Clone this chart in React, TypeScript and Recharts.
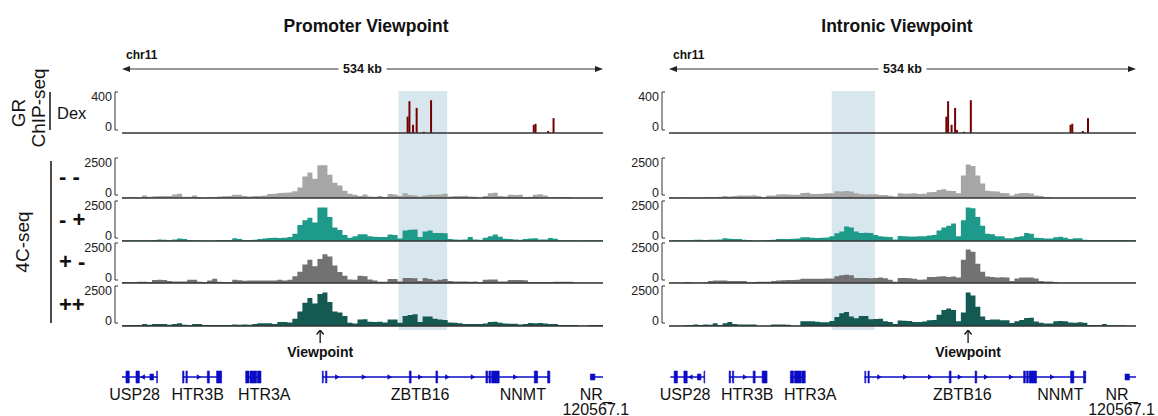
import React from 'react'
import {
  Area,
  AreaChart,
  Bar,
  BarChart,
  ComposedChart,
  ReferenceArea,
  ReferenceLine,
  Scatter,
  XAxis,
  YAxis,
} from 'recharts'

const FONT = '"Liberation Sans", Arial, Helvetica, sans-serif'
const BLUE = '#0b0bc6'
const REGION_KB = 534
const BINS = 96
const CHIP_BIN_KB = 2

// 4C-seq signal, 96 bins over the 534 kb window (conditions: - -, - +, + -, ++)
const promoterMM = [
  60, 40, 60, 50, 150, 80, 110, 120, 120, 130, 220, 270, 80, 80, 150, 60, 20, 40, 60, 90, 110, 120, 200, 200,
  120, 100, 130, 130, 150, 250, 260, 320, 330, 340, 420, 650, 1350, 1600, 1200, 2050, 2050, 1450, 950, 780, 450, 260, 200, 120,
  220, 100, 80, 120, 60, 250, 220, 120, 300, 180, 150, 100, 150, 200, 200, 220, 260, 100, 120, 120, 140, 100, 80, 20,
  120, 300, 330, 120, 100, 200, 180, 200, 60, 80, 200, 240, 150, 60, 40, 60, 60, 60, 10, 10, 10, 10, 10, 10,
]
const promoterMP = [
  40, 40, 40, 40, 50, 50, 60, 100, 80, 50, 100, 150, 130, 60, 40, 40, 30, 30, 30, 60, 60, 60, 170, 130,
  60, 60, 80, 120, 150, 180, 200, 190, 200, 250, 460, 1000, 1300, 1450, 1150, 2100, 2100, 1500, 850, 680, 380, 200, 300, 420,
  420, 300, 260, 250, 250, 400, 380, 150, 650, 700, 720, 250, 600, 650, 500, 500, 480, 130, 90, 80, 100, 250, 100, 80,
  200, 300, 400, 260, 140, 130, 90, 80, 120, 150, 170, 100, 100, 180, 140, 40, 40, 40, 40, 30, 40, 40, 40, 40,
]
const promoterPM = [
  60, 50, 60, 80, 80, 60, 180, 200, 190, 120, 100, 100, 100, 210, 210, 80, 60, 150, 270, 80, 70, 60, 200, 170,
  140, 150, 150, 150, 150, 150, 150, 210, 160, 200, 420, 700, 1150, 1450, 1050, 1500, 1800, 1650, 1100, 680, 460, 220, 200, 460,
  420, 220, 150, 80, 80, 250, 250, 100, 320, 320, 300, 120, 320, 250, 150, 200, 250, 120, 100, 100, 100, 80, 100, 40,
  200, 220, 220, 100, 100, 180, 180, 180, 170, 60, 60, 60, 60, 60, 80, 80, 80, 80, 30, 20, 20, 20, 20, 20,
]
const promoterPP = [
  60, 60, 60, 60, 120, 80, 120, 120, 120, 80, 120, 170, 80, 60, 120, 120, 60, 60, 60, 60, 60, 60, 100, 80,
  100, 80, 120, 170, 170, 170, 120, 250, 250, 220, 460, 900, 1450, 1750, 1400, 2000, 2100, 1500, 900, 840, 620, 200, 150, 400,
  420, 260, 250, 260, 220, 400, 400, 200, 620, 680, 740, 250, 600, 600, 450, 400, 380, 220, 200, 170, 130, 120, 120, 120,
  150, 250, 270, 200, 150, 140, 140, 100, 130, 180, 170, 180, 150, 130, 120, 60, 60, 60, 60, 10, 10, 60, 60, 60,
]
const intronicMM = [
  40, 30, 50, 40, 50, 30, 40, 50, 60, 60, 80, 120, 100, 130, 150, 150, 150, 170, 120, 60, 150, 160, 220, 230,
  220, 210, 200, 320, 330, 250, 250, 270, 290, 300, 420, 400, 430, 400, 300, 230, 220, 230, 230, 180, 190, 140, 100, 300,
  270, 280, 300, 250, 260, 360, 380, 500, 540, 460, 440, 300, 1400, 2100, 2000, 1400, 900, 450, 420, 400, 320, 300, 150, 260,
  320, 320, 280, 150, 120, 70, 60, 20, 20, 20, 20, 20, 20, 20, 20, 20, 20, 20, 20, 20, 20, 20, 20, 30,
]
const intronicMP = [
  30, 40, 40, 50, 50, 80, 80, 70, 80, 80, 100, 170, 140, 130, 130, 80, 60, 30, 30, 40, 60, 80, 120, 130,
  130, 140, 150, 240, 230, 200, 190, 200, 220, 300, 480, 600, 900, 850, 600, 500, 520, 500, 380, 300, 260, 250, 100, 320,
  300, 280, 280, 290, 300, 340, 380, 650, 850, 950, 1100, 300, 1300, 2100, 2050, 1500, 950, 450, 420, 300, 290, 170, 170, 250,
  300, 500, 450, 210, 180, 150, 150, 240, 260, 200, 120, 170, 170, 80, 60, 60, 60, 60, 60, 60, 60, 60, 60, 50,
]
const intronicPM = [
  10, 10, 10, 60, 50, 20, 20, 40, 120, 150, 150, 150, 130, 130, 130, 120, 40, 60, 80, 80, 80, 120, 150, 170,
  190, 190, 200, 270, 270, 270, 260, 270, 280, 280, 420, 480, 520, 480, 320, 320, 320, 300, 320, 340, 300, 200, 80, 320,
  320, 300, 260, 200, 220, 380, 380, 400, 420, 380, 400, 350, 1450, 2100, 1950, 1200, 700, 400, 380, 340, 360, 350, 120, 280,
  340, 340, 340, 280, 120, 100, 100, 60, 20, 10, 10, 10, 10, 10, 10, 10, 10, 10, 10, 10, 10, 10, 10, 10,
]
const intronicPP = [
  10, 10, 10, 40, 60, 100, 60, 100, 80, 170, 60, 170, 250, 120, 100, 100, 100, 100, 20, 10, 10, 100, 100, 100,
  80, 10, 20, 300, 300, 290, 260, 230, 240, 320, 560, 800, 880, 600, 480, 630, 620, 420, 440, 460, 300, 250, 120, 350,
  330, 320, 250, 250, 280, 360, 380, 700, 1000, 1090, 1000, 300, 850, 2100, 1900, 1200, 600, 380, 400, 400, 360, 360, 190, 300,
  380, 500, 520, 280, 200, 150, 150, 300, 320, 300, 220, 200, 240, 200, 60, 60, 50, 120, 40, 40, 40, 40, 20, 20,
]

const conditions = ['- -', '- +', '+ -', '++']
const trackColors = ['#a6a6a6', '#1e9a8b', '#727272', '#145a52']

// GR ChIP-seq (Dex) peaks: position in kb, signal
const chipKb = [315, 317, 321, 325, 326, 334, 342, 456, 458, 471, 477]
const chipDex = [160, 310, 80, 245, 30, 12, 320, 80, 90, 20, 145]

// RefSeq genes, kb
const geneNames = ['USP28', 'HTR3B', 'HTR3A', 'ZBTB16', 'NNMT', 'NR_\n120567.1']
const geneStart = [0, 67.3, 137.3, 222, 418.8, 520]
const geneEnd = [39.3, 110.6, 154.3, 418.8, 475, 534]
const geneLabelKb = [
  [14, 84, 158, 331, 445, 526],
  [17, 88, 160, 334, 446, 516],
]
const exonSpans = [
  [4.4, 8.1], [15.5, 19.3], [38.5, 39.3], [67.3, 68.8], [71, 72.5], [94.7, 97], [105, 110.6],
  [137.3, 141], [142, 149.5], [150.2, 154.3], [222.4, 223.5], [226, 227.5], [319, 321], [348.5, 350.4],
  [404, 406], [407.4, 409.3], [410.3, 418.8], [457.7, 461.4], [472.5, 475],
]
const utrSpans = [[31, 35], [520, 525]]
const chevronKb = [22.6, 85.8, 239.4, 269, 297.5, 331.5, 361.5, 390, 437]
const chevronDir = [-1, 1, 1, 1, 1, 1, 1, 1, 1]

// highlighted region and 4C viewpoint per panel, kb
const shadeKb = [[307, 361], [184.5, 234]]
const viewpointKb = [220, 340.5]
const windowShift = [0, 1.5]

const panels = [
  { title: 'Promoter Viewpoint', titleX: 366, x0: 122, w: 481, tracks: [promoterMM, promoterMP, promoterPM, promoterPP] },
  { title: 'Intronic Viewpoint', titleX: 897, x0: 669, w: 467, tracks: [intronicMM, intronicMP, intronicPM, intronicPP] },
]

const AXIS_W = 50
const CHIP_TOP = 92
const CHIP_H = 41
const TRACK_H = 40
const trackBase = [198, 241, 283, 326]
const GENE_TOP = 330
const GENE_H = 86
const GENE_AXIS_H = 30
const GENE_PAD_R = 50
const LINE_Y = 9

const bracketTick = (plotH: number, max: number, botDy: number) => (props: any) => {
  const { x, y, payload } = props
  const isTop = payload.value === max
  const bx = x - 7
  const sy = isTop ? y : y - 3
  return (
    <g>
      {isTop && <line x1={bx} y1={y} x2={bx} y2={y + plotH - 3} stroke="#333" strokeWidth={1} />}
      <line x1={bx} y1={sy} x2={bx + 3} y2={sy} stroke="#333" strokeWidth={1} />
      <text
        x={x - 10}
        y={isTop ? y + 5 : y + botDy}
        textAnchor="end"
        dominantBaseline="central"
        fontSize={12.5}
        fontFamily={FONT}
        fill="#222"
      >
        {payload.value}
      </text>
    </g>
  )
}

const geneLabelTick = (pi: number) => (props: any) => {
  const { x, y, payload } = props
  const i = geneLabelKb[pi].indexOf(payload.value)
  if (i < 0) return <g />
  const lines = geneNames[i].split('\n')
  return (
    <text x={x} y={y + 13.5} textAnchor="middle" fontSize={16} fontFamily={FONT} fill="#111">
      {lines.map((l, j) => (
        <tspan key={j} x={x} dy={j === 0 ? 0 : 15}>
          {l}
        </tspan>
      ))}
    </text>
  )
}

const Chevron = (p: any) => {
  const { cx, cy, payload } = p
  const d = payload.dir
  return (
    <path
      d={`M${cx - 2.5 * d},${cy - 2.8} L${cx + 2 * d},${cy} L${cx - 2.5 * d},${cy + 2.8} Z`}
      fill={BLUE}
    />
  )
}

const ViewpointMark = (p: any) => {
  const { cx, cy } = p
  return (
    <g>
      <line x1={cx} y1={cy} x2={cx} y2={cy - 12} stroke="#111" strokeWidth={1.3} />
      <path d={`M${cx - 3.5},${cy - 8.5} L${cx},${cy - 13} L${cx + 3.5},${cy - 8.5}`} fill="none" stroke="#111" strokeWidth={1.3} />
      <text x={cx} y={cy + 9} textAnchor="middle" dominantBaseline="central" fontWeight="bold" fontSize={14} fontFamily={FONT} fill="#111">
        Viewpoint
      </text>
    </g>
  )
}

function Header() {
  return (
    <svg width={1158} height={416} style={{ position: 'absolute', left: 0, top: 0 }}>
      {panels.map((p) => {
        const mid = p.x0 + p.w / 2
        return (
          <g key={p.title} fontFamily={FONT}>
            <text x={p.titleX} y={26} textAnchor="middle" dominantBaseline="central" fontSize={17.5} fontWeight="bold" fill="#111">
              {p.title}
            </text>
            <text x={p.x0 + 4} y={55} dominantBaseline="central" fontSize={12} fontWeight="bold" fill="#111">
              chr11
            </text>
            <line x1={p.x0 + 4} y1={69} x2={mid - 24} y2={69} stroke="#333" strokeWidth={1.2} />
            <line x1={mid + 24} y1={69} x2={p.x0 + p.w - 4} y2={69} stroke="#333" strokeWidth={1.2} />
            <polygon points={`${p.x0},69 ${p.x0 + 8},66 ${p.x0 + 8},72`} fill="#222" />
            <polygon points={`${p.x0 + p.w},69 ${p.x0 + p.w - 8},66 ${p.x0 + p.w - 8},72`} fill="#222" />
            <text x={mid} y={69} textAnchor="middle" dominantBaseline="central" fontSize={12.5} fontWeight="bold" fill="#111">
              534 kb
            </text>
          </g>
        )
      })}
      <g fontFamily={FONT} fill="#111">
        <text transform="translate(18,113) rotate(-90)" textAnchor="middle" dominantBaseline="central" fontSize={19}>GR</text>
        <text transform="translate(38,108) rotate(-90)" textAnchor="middle" dominantBaseline="central" fontSize={19}>ChIP-seq</text>
        <line x1={50} y1={92} x2={50} y2={130} stroke="#111" strokeWidth={1.5} />
        <text x={57} y={113} dominantBaseline="central" fontSize={16.5}>Dex</text>
        <text transform="translate(22,242) rotate(-90)" textAnchor="middle" dominantBaseline="central" fontSize={19}>4C-seq</text>
        <line x1={51} y1={161} x2={51} y2={323} stroke="#111" strokeWidth={1.5} />
        {conditions.map((c, i) => (
          <text key={c} x={59} y={trackBase[i] - 22} dominantBaseline="central" fontSize={22} fontWeight="bold">
            {c}
          </text>
        ))}
      </g>
    </svg>
  )
}

function Shading({ pi }: { pi: number }) {
  const p = panels[pi]
  const dom = [-windowShift[pi], REGION_KB - windowShift[pi]]
  const data = [{ name: 'highlight', span: shadeKb[pi] }]
  return (
    <div style={{ position: 'absolute', left: p.x0, top: 91 }}>
      <BarChart
        layout="vertical"
        width={p.w}
        height={239}
        data={data}
        margin={{ top: 0, right: 0, bottom: 0, left: 0 }}
        barCategoryGap={0}
      >
        <XAxis type="number" domain={dom} hide allowDataOverflow />
        <YAxis type="category" dataKey="name" hide />
        <Bar dataKey="span" fill="#d8e6ee" isAnimationActive={false} />
      </BarChart>
    </div>
  )
}

function ChipTrack({ pi }: { pi: number }) {
  const p = panels[pi]
  const nBins = Math.ceil(REGION_KB / CHIP_BIN_KB)
  const bins = Array.from({ length: nBins }, (_, i) => ({ bin: i, dex: 0 }))
  chipKb.forEach((kb, i) => {
    const b = Math.min(nBins - 1, Math.round((kb + windowShift[pi]) / CHIP_BIN_KB))
    bins[b].dex = Math.max(bins[b].dex, chipDex[i])
  })
  return (
    <div style={{ position: 'absolute', left: p.x0 - AXIS_W, top: CHIP_TOP - 4 }}>
      <BarChart
        width={p.w + AXIS_W}
        height={CHIP_H + 8}
        data={bins}
        margin={{ top: 4, right: 0, bottom: 4, left: 0 }}
        barCategoryGap={0}
        barGap={0}
      >
        <XAxis dataKey="bin" hide />
        <YAxis
          width={AXIS_W}
          type="number"
          domain={[0, 400]}
          ticks={[0, 400]}
          interval={0}
          tick={bracketTick(CHIP_H, 400, -6)}
          tickLine={false}
          axisLine={false}
          tickSize={0}
          tickMargin={0}
        />
        <Bar dataKey="dex" fill="#740000" isAnimationActive={false} />
        <ReferenceLine y={0} stroke="#333" strokeWidth={1.5} />
      </BarChart>
    </div>
  )
}

function FourCTrack({ pi, ti }: { pi: number; ti: number }) {
  const p = panels[pi]
  const values = p.tracks[ti]
  const data = [...values, values[values.length - 1]].map((v, i) => ({ bin: i, signal: v }))
  return (
    <div style={{ position: 'absolute', left: p.x0 - AXIS_W, top: trackBase[ti] - TRACK_H - 4 }}>
      <AreaChart width={p.w + AXIS_W} height={TRACK_H + 8} data={data} margin={{ top: 4, right: 0, bottom: 4, left: 0 }}>
        <XAxis type="number" dataKey="bin" domain={[0, BINS]} hide />
        <YAxis
          width={AXIS_W}
          type="number"
          domain={[0, 2500]}
          ticks={[0, 2500]}
          interval={0}
          tick={bracketTick(TRACK_H, 2500, -5)}
          tickLine={false}
          axisLine={false}
          tickSize={0}
          tickMargin={0}
        />
        <Area
          type="stepAfter"
          dataKey="signal"
          stroke="none"
          fill={trackColors[ti]}
          fillOpacity={1}
          isAnimationActive={false}
        />
        <ReferenceLine y={0} stroke="#333" strokeWidth={1.5} />
      </AreaChart>
    </div>
  )
}

function GeneTrack({ pi }: { pi: number }) {
  const p = panels[pi]
  const dom = [-windowShift[pi], REGION_KB - windowShift[pi]]
  const chevData = chevronKb.map((kb, i) => ({ kb, y: LINE_Y, dir: chevronDir[i] }))
  const vpData = [{ kb: viewpointKb[pi], y: 43 }]
  return (
    <div style={{ position: 'absolute', left: p.x0 - AXIS_W, top: GENE_TOP }}>
      <ComposedChart
        width={p.w + AXIS_W + GENE_PAD_R}
        height={GENE_H}
        data={chevData}
        margin={{ top: 0, right: GENE_PAD_R, bottom: 0, left: AXIS_W }}
      >
        <XAxis
          type="number"
          dataKey="kb"
          domain={dom}
          allowDataOverflow
          ticks={geneLabelKb[pi]}
          interval={0}
          tick={geneLabelTick(pi)}
          tickLine={false}
          axisLine={false}
          tickSize={0}
          tickMargin={0}
          height={GENE_AXIS_H}
        />
        <YAxis type="number" dataKey="y" domain={[0, GENE_H - GENE_AXIS_H]} hide />
        {geneStart.map((s, i) => (
          <ReferenceLine
            key={'g' + i}
            segment={[{ x: s, y: LINE_Y }, { x: geneEnd[i], y: LINE_Y }]}
            stroke={BLUE}
            strokeWidth={1.5}
            ifOverflow="hidden"
          />
        ))}
        {exonSpans.map(([a, b], i) => (
          <ReferenceArea key={'e' + i} x1={a} x2={b} y1={LINE_Y - 6} y2={LINE_Y + 6} fill={BLUE} fillOpacity={1} stroke={BLUE} strokeWidth={0.6} ifOverflow="hidden" />
        ))}
        {utrSpans.map(([a, b], i) => (
          <ReferenceArea key={'u' + i} x1={a} x2={b} y1={LINE_Y - 3} y2={LINE_Y + 3} fill={BLUE} fillOpacity={1} stroke={BLUE} strokeWidth={0.6} ifOverflow="hidden" />
        ))}
        <Scatter data={chevData} dataKey="y" shape={(s: any) => <Chevron {...s} />} isAnimationActive={false} />
        <Scatter data={vpData} dataKey="y" shape={(s: any) => <ViewpointMark {...s} />} isAnimationActive={false} />
      </ComposedChart>
    </div>
  )
}

export default function App() {
  return (
    <div style={{ position: 'relative', width: 1158, height: 416, background: '#fff', overflow: 'hidden' }}>
      <style>{'body{margin:0}'}</style>
      <Header />
      {panels.map((p, pi) => (
        <React.Fragment key={p.title}>
          <Shading pi={pi} />
          <ChipTrack pi={pi} />
          {p.tracks.map((_, ti) => (
            <FourCTrack key={ti} pi={pi} ti={ti} />
          ))}
          <GeneTrack pi={pi} />
        </React.Fragment>
      ))}
    </div>
  )
}
